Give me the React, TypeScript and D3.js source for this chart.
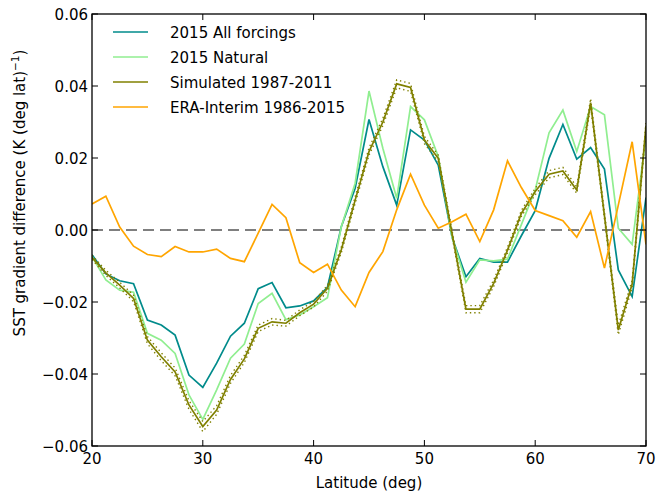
import React from 'react';
import * as d3 from 'd3';

// latitude grid (deg)
const lats = [
  20, 21.25, 22.5, 23.75, 25, 26.25, 27.5, 28.75, 30, 31.25,
  32.5, 33.75, 35, 36.25, 37.5, 38.75, 40, 41.25, 42.5, 43.75,
  45, 46.25, 47.5, 48.75, 50, 51.25, 52.5, 53.75, 55, 56.25,
  57.5, 58.75, 60, 61.25, 62.5, 63.75, 65, 66.25, 67.5, 68.75, 70,
];

const allForcings = [
  -0.0069, -0.0122, -0.0141, -0.0149, -0.025, -0.0264, -0.0292, -0.0403, -0.0437, -0.037,
  -0.0295, -0.0259, -0.0163, -0.0146, -0.0216, -0.0211, -0.0197, -0.0159, 0.0009, 0.0116,
  0.0307, 0.0176, 0.0069, 0.0278, 0.025, 0.018, -0.002, -0.013, -0.0079, -0.0089,
  -0.0089, -0.0016, 0.0054, 0.0199, 0.0293, 0.0197, 0.0229, 0.0169, -0.0111, -0.0185, 0.009,
];

const natural = [
  -0.0074, -0.0139, -0.0167, -0.0173, -0.0287, -0.0306, -0.0343, -0.0458, -0.0526, -0.0444,
  -0.0356, -0.0317, -0.0204, -0.0176, -0.0249, -0.0236, -0.0213, -0.0188, 0.0009, 0.013,
  0.0386, 0.0227, 0.0088, 0.0343, 0.0306, 0.0204, -0.002, -0.0145, -0.0083, -0.0086,
  -0.0081, 0.0015, 0.0111, 0.027, 0.0333, 0.0218, 0.0343, 0.032, 0.0005, -0.004, 0.026,
];

const simulated = [
  -0.0076, -0.0119, -0.0153, -0.019, -0.0306, -0.0352, -0.0394, -0.0486, -0.0546, -0.05,
  -0.0415, -0.0358, -0.0273, -0.0255, -0.0259, -0.023, -0.0206, -0.0162, -0.0055, 0.0083,
  0.0218, 0.03, 0.0406, 0.0396, 0.025, 0.0199, -0.001, -0.022, -0.022, -0.0148,
  -0.0056, 0.0046, 0.0107, 0.0155, 0.0164, 0.0111, 0.0354, 0.004, -0.0278, -0.015, 0.029,
];

// half-width of the dotted envelope around the simulated curve
const simSpread = [
  0.0006, 0.0007, 0.0008, 0.0009, 0.0010, 0.0011, 0.0011, 0.0012, 0.0014, 0.0012,
  0.0011, 0.0010, 0.0009, 0.0009, 0.0008, 0.0008, 0.0008, 0.0008, 0.0008, 0.0009,
  0.0010, 0.0010, 0.0011, 0.0011, 0.0010, 0.0009, 0.0008, 0.0010, 0.0010, 0.0009,
  0.0008, 0.0008, 0.0009, 0.0010, 0.0010, 0.0009, 0.0011, 0.0009, 0.0013, 0.0010, 0.0009,
];

const eraInterim = [
  0.0072, 0.0094, 0.0008, -0.0045, -0.0068, -0.0074, -0.0046, -0.0061, -0.0061, -0.0053,
  -0.0079, -0.0088, -0.0009, 0.0071, 0.0034, -0.0091, -0.0118, -0.0095, -0.0167, -0.0213,
  -0.0118, -0.006, 0.0056, 0.0155, 0.0069, 0.0005, 0.0023, 0.0044, -0.0032, 0.0056,
  0.0192, 0.0118, 0.0054, 0.004, 0.0026, -0.002, 0.0051, -0.0106, 0.0069, 0.0245, -0.004,
];

const xTicks = [20, 30, 40, 50, 60, 70];
const yTicks = [-0.06, -0.04, -0.02, 0, 0.02, 0.04, 0.06];

const seriesNames = ['2015 All forcings', '2015 Natural', 'Simulated 1987-2011', 'ERA-Interim 1986-2015'];
const seriesColors = ['#008b8b', '#90ee90', '#808000', '#ffa500'];

const W = 672;
const H = 495;
const margin = { top: 14, right: 26, bottom: 49, left: 92 };
const FONT = 'DejaVu Sans, sans-serif';

export default function App() {
  const iw = W - margin.left - margin.right;
  const ih = H - margin.top - margin.bottom;

  const x = d3.scaleLinear().domain([20, 70]).range([0, iw]);
  const y = d3.scaleLinear().domain([-0.06, 0.06]).range([ih, 0]);

  const line = d3.line<number>()
    .x((_, i) => x(lats[i]))
    .y(d => y(d));

  const simUpper = simulated.map((v, i) => v + simSpread[i]);
  const simLower = simulated.map((v, i) => v - simSpread[i]);

  const fmt = (v: number) => d3.format('.2f')(v).replace('-', '\u2212');
  const tick = 6;

  return (
    <svg width={W} height={H} style={{ position: 'absolute', left: 0, top: 0, background: '#fff' }}
      fontFamily={FONT}>
      <defs>
        <clipPath id="plotClip">
          <rect x={0} y={0} width={iw} height={ih} />
        </clipPath>
      </defs>
      <g transform={`translate(${margin.left},${margin.top})`}>
        <g clipPath="url(#plotClip)">
          <line x1={0} x2={iw} y1={y(0)} y2={y(0)} stroke="#000" strokeWidth={1.2} strokeDasharray="11,6" />
          <path d={line(allForcings) || ''} fill="none" stroke={seriesColors[0]} strokeWidth={1.7} />
          <path d={line(natural) || ''} fill="none" stroke={seriesColors[1]} strokeWidth={1.7} />
          <path d={line(simulated) || ''} fill="none" stroke={seriesColors[2]} strokeWidth={1.7} />
          <path d={line(simUpper) || ''} fill="none" stroke={seriesColors[2]} strokeWidth={1.4} strokeDasharray="1.4,3" />
          <path d={line(simLower) || ''} fill="none" stroke={seriesColors[2]} strokeWidth={1.4} strokeDasharray="1.4,3" />
          <path d={line(eraInterim) || ''} fill="none" stroke={seriesColors[3]} strokeWidth={1.7} />
        </g>

        {/* frame */}
        <rect x={0} y={0} width={iw} height={ih} fill="none" stroke="#000" strokeWidth={1.3} />

        {/* x ticks, inward on bottom and top */}
        {xTicks.map(t => (
          <g key={'x' + t}>
            <line x1={x(t)} x2={x(t)} y1={ih} y2={ih - tick} stroke="#000" strokeWidth={1} />
            <line x1={x(t)} x2={x(t)} y1={0} y2={tick} stroke="#000" strokeWidth={1} />
            <text x={x(t)} y={ih + 18} textAnchor="middle" fontSize={15}>{t}</text>
          </g>
        ))}

        {/* y ticks, inward on left and right */}
        {yTicks.map(t => (
          <g key={'y' + t}>
            <line x1={0} x2={tick} y1={y(t)} y2={y(t)} stroke="#000" strokeWidth={1} />
            <line x1={iw} x2={iw - tick} y1={y(t)} y2={y(t)} stroke="#000" strokeWidth={1} />
            <text x={-4} y={y(t) + 5.5} textAnchor="end" fontSize={15}>{fmt(t)}</text>
          </g>
        ))}

        <text x={iw / 2} y={ih + 42} textAnchor="middle" fontSize={15}>Latitude (deg)</text>

        {/* legend, no frame */}
        {seriesNames.map((name, i) => (
          <g key={name} transform={`translate(0,${18 + i * 25})`}>
            <line x1={21} x2={56} y1={0} y2={0} stroke={seriesColors[i]} strokeWidth={1.7} />
            <text x={78} y={6} fontSize={15}>{name}</text>
          </g>
        ))}
      </g>

      <text transform={`translate(25,${margin.top + 179}) rotate(-90)`} textAnchor="middle" fontSize={15}>
        SST gradient difference (K (deg lat)
        <tspan fontSize={10.5} dy={-6}>{'\u22121'}</tspan>
        <tspan dy={6}>)</tspan>
      </text>
    </svg>
  );
}
